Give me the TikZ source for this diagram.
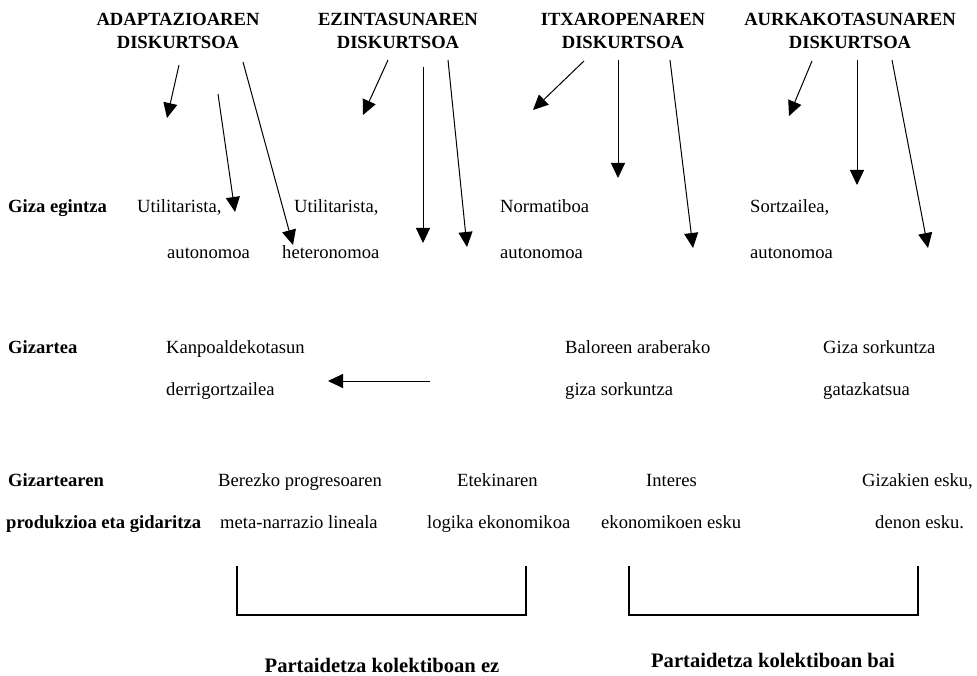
\documentclass[tikz,border=0pt]{standalone}
\usepackage{fontspec}
\setmainfont{Liberation Serif}
\usetikzlibrary{arrows.meta}

\begin{document}
\begin{tikzpicture}[x = 1pt, y = -1pt,
    head/.style   = {font = \fontsize{18.6}{23}\selectfont\bfseries, align = center, anchor = north, inner sep = 0},
    rowlbl/.style = {font = \fontsize{18.6}{22}\selectfont\bfseries, anchor = base west, inner sep = 0},
    txt/.style    = {font = \fontsize{18.6}{22}\selectfont, anchor = base west, inner sep = 0},
    foot/.style   = {font = \fontsize{20.6}{24}\selectfont\bfseries, anchor = base, inner sep = 0},
    arr/.style    = {-{Triangle[length = 15pt, width = 14pt]}, line width = 1pt}]
  \useasboundingbox (0, 0) rectangle (977, 676);

  % goiburuak
  \node[head] at (178, 12.5) (ad) {ADAPTAZIOAREN\\DISKURTSOA};
  \node[head] at (398, 12.5) (ez) {EZINTASUNAREN\\DISKURTSOA};
  \node[head] at (623, 12.5) (it) {ITXAROPENAREN\\DISKURTSOA};
  \node[head] at (850, 12.5) (au) {AURKAKOTASUNAREN\\DISKURTSOA};

  % errenkadak
  \node[rowlbl] at (8, 213) (ge)  {Giza egintza};
  \node[rowlbl] at (8, 353) (gz)  {Gizartea};
  \node[rowlbl] at (8, 486) (gp1) {Gizartearen};
  \node[rowlbl] at (6, 528) (gp2) {produkzioa eta gidaritza};

  \node[txt] at (137, 213) (u1)  {Utilitarista,};
  \node[txt] at (167, 259) (u1b) {autonomoa};
  \node[txt] at (294, 213) (u2)  {Utilitarista,};
  \node[txt] at (282, 259) (u2b) {heteronomoa};
  \node[txt] at (500, 213) (n1)  {Normatiboa};
  \node[txt] at (500, 259) (n1b) {autonomoa};
  \node[txt] at (750, 213) (s1)  {Sortzailea,};
  \node[txt] at (750, 259) (s1b) {autonomoa};

  \node[txt] at (166, 353) (k1)  {Kanpoaldekotasun};
  \node[txt] at (166, 395) (k1b) {derrigortzailea};
  \node[txt] at (565, 353) (b1)  {Baloreen araberako};
  \node[txt] at (565, 395) (b1b) {giza sorkuntza};
  \node[txt] at (823, 353) (g1)  {Giza sorkuntza};
  \node[txt] at (823, 395) (g1b) {gatazkatsua};

  \node[txt] at (218, 486) (p1)  {Berezko progresoaren};
  \node[txt] at (220, 528) (p1b) {meta-narrazio lineala};
  \node[txt] at (457, 486) (e1)  {Etekinaren};
  \node[txt] at (427, 528) (e1b) {logika ekonomikoa};
  \node[txt] at (646, 486) (i1)  {Interes};
  \node[txt] at (601, 528) (i1b) {ekonomikoen esku};
  \node[txt] at (862, 486) (d1)  {Gizakien esku,};
  \node[txt] at (875, 528) (d1b) {denon esku.};

  \node[foot] at (382, 672) (pez)  {Partaidetza kolektiboan ez};
  \node[foot] at (773, 667) (pbai) {Partaidetza kolektiboan bai};

  % gezien muturrak
  \coordinate (a1) at (179, 65);  \coordinate (a1t) at (167, 118);
  \coordinate (a2) at (218, 94);  \coordinate (a2t) at (235, 212);
  \coordinate (a3) at (243, 62);  \coordinate (a3t) at (293, 245);
  \coordinate (a4) at (388, 60);  \coordinate (a4t) at (363, 115);
  \coordinate (a5) at (423, 67);  \coordinate (a5t) at (423, 243);
  \coordinate (a6) at (448, 60);  \coordinate (a6t) at (467, 247);
  \coordinate (a7) at (584, 61);  \coordinate (a7t) at (533, 110);
  \coordinate (a8) at (618, 60);  \coordinate (a8t) at (618, 178);
  \coordinate (a9) at (670, 60);  \coordinate (a9t) at (693, 248);
  \coordinate (a10) at (812, 61); \coordinate (a10t) at (789, 116);
  \coordinate (a11) at (857, 60); \coordinate (a11t) at (857, 185);
  \coordinate (a12) at (892, 60); \coordinate (a12t) at (928, 248);
  \coordinate (h1) at (430, 381); \coordinate (h1t) at (328, 381);

  \draw[arr] (a1) -- (a1t);
  \draw[arr] (a2) -- (a2t);
  \draw[arr] (a3) -- (a3t);
  \draw[arr] (a4) -- (a4t);
  \draw[arr] (a5) -- (a5t);
  \draw[arr] (a6) -- (a6t);
  \draw[arr] (a7) -- (a7t);
  \draw[arr] (a8) -- (a8t);
  \draw[arr] (a9) -- (a9t);
  \draw[arr] (a10) -- (a10t);
  \draw[arr] (a11) -- (a11t);
  \draw[arr] (a12) -- (a12t);
  \draw[arr] (h1) -- (h1t);

  % kortxeteak
  \draw[line width = 1.2pt] (237, 566) |- (526, 615) -- (526, 566);
  \draw[line width = 1.2pt] (629, 566) |- (918, 615) -- (918, 566);
\end{tikzpicture}
\end{document}
